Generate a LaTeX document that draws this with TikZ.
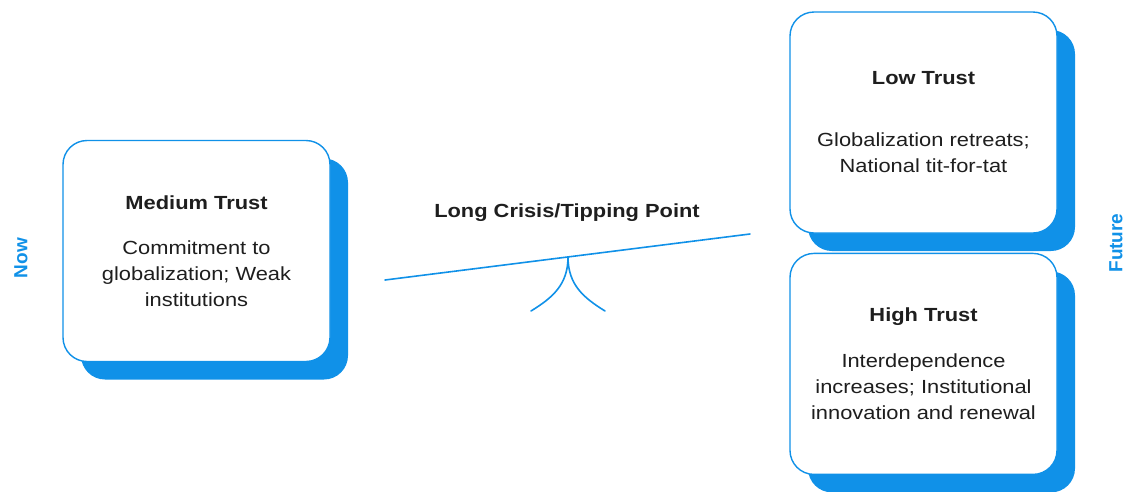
\documentclass[tikz,border=0pt]{standalone}
\usepackage{fontspec}
\setmainfont{Liberation Sans}[FakeStretch=1.15]
\newfontfamily\sidefont{Liberation Sans}
\usetikzlibrary{positioning,shadows}
\definecolor{trustblue}{RGB}{16,145,232}
\definecolor{inkgray}{RGB}{30,30,30}

\begin{document}
\begin{tikzpicture}[x=1pt, y=-1pt, line join=round, line cap=round,
    font=\fontsize{19}{26}\selectfont, text=inkgray,
    scenario/.style={draw=trustblue, line width=1.4pt, fill=white, rounded corners=24pt,
      minimum width=267pt, minimum height=221pt, inner sep=0pt, align=center,
      drop shadow={shadow xshift=18pt, shadow yshift=-18pt, opacity=1, fill=trustblue}},
    side/.style={text=trustblue, font=\sidefont\fontsize{19}{22}\selectfont\bfseries,
      rotate=90, inner sep=0pt},
    beam/.style={draw=trustblue, line width=1.6pt}]
  \useasboundingbox (0,0) rectangle (1125,491);
  % scenarios
  \node[scenario] (medium) at (196.5,251) {\textbf{Medium Trust}\\[19pt] Commitment to\\ globalization; Weak\\ institutions};
  \node[scenario] (low) at (923.5,122.5) {\textbf{Low Trust}\\[36pt] Globalization retreats;\\ National tit-for-tat};
  \node[scenario, below=19pt of low] (high) {\textbf{High Trust}\\[20pt] Interdependence\\ increases; Institutional\\ innovation and renewal};
  \node[side] (now) at (21,258) {Now};
  \node[side] (future) at (1116,243) {Future};
  % seesaw
  \node[font=\fontsize{19}{22}\selectfont\bfseries] (crisis) at (567,213) {Long Crisis/Tipping Point};
  \coordinate (beamleft) at (385,280);
  \coordinate (beamright) at (750,234);
  \coordinate (pivot) at (568,257);
  \coordinate (footleft) at (531,311);
  \coordinate (footright) at (605,311);
  \draw[beam] (beamleft) -- (beamright);
  \draw[beam] (footleft) .. controls (552,298) and (568,285) .. (pivot)
    .. controls (568,285) and (584,298) .. (footright);
\end{tikzpicture}
\end{document}
